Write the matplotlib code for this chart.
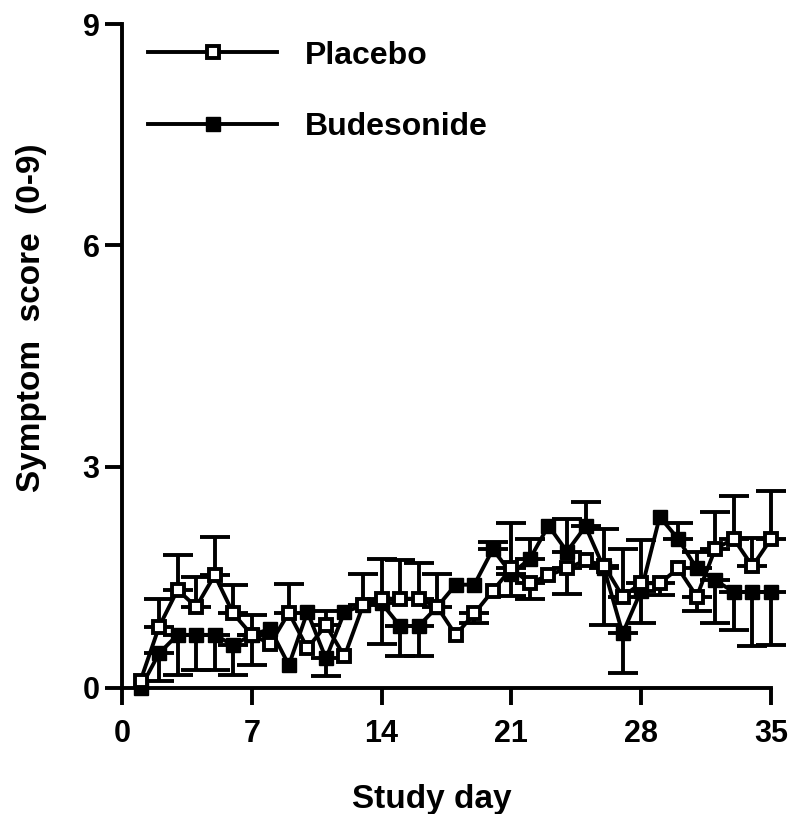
import numpy as np
import matplotlib.pyplot as plt

plt.rcParams['font.family'] = ['Liberation Sans', 'DejaVu Sans']
plt.rcParams['font.weight'] = 'bold'

days = np.arange(1, 36)

placebo = [0.10, 0.83, 1.33, 1.10, 1.53, 1.01, 0.72, 0.60, 1.02, 0.54,
           0.85, 0.43, 1.12, 1.21, 1.21, 1.21, 1.10, 0.72, 1.01, 1.32,
           1.62, 1.42, 1.53, 1.62, 1.73, 1.66, 1.24, 1.42, 1.42, 1.62,
           1.24, 1.89, 2.02, 1.65, 2.02]
placebo_up = [0, 0.37, 0.47, 0.40, 0.52, 0.38, 0.27, 0, 0.39, 0,
              0.20, 0, 0.43, 0.54, 0.52, 0.48, 0.45, 0, 0, 0,
              0.61, 0, 0, 0, 0, 0.50, 0.65, 0.58, 0, 0,
              0, 0.49, 0.58, 0.38, 0.65]
placebo_down = [0, 0, 0, 0, 0, 0, 0, 0, 0, 0,
                0, 0, 0, 0, 0, 0, 0, 0, 0.13, 0,
                0, 0.21, 0, 0.34, 0, 0, 0, 0, 0.16, 0,
                0.20, 0, 0, 0, 0]

budesonide = [0.00, 0.47, 0.72, 0.72, 0.72, 0.58, 0.72, 0.80, 0.31, 1.03,
              0.40, 1.03, 1.12, 1.15, 0.84, 0.84, 1.10, 1.40, 1.40, 1.88,
              1.55, 1.75, 2.20, 1.85, 2.19, 1.62, 0.74, 1.32, 2.32, 2.02,
              1.62, 1.46, 1.30, 1.30, 1.30]
bud_up = [0, 0, 0, 0, 0, 0, 0, 0, 0, 0,
          0, 0, 0, 0, 0, 0, 0, 0, 0, 0.10,
          0, 0.27, 0, 0.44, 0.33, 0, 0, 0, 0, 0.22,
          0.23, 0, 0, 0, 0]
bud_down = [0, 0.37, 0.54, 0.47, 0.47, 0.40, 0.41, 0, 0, 0,
            0.24, 0, 0, 0.55, 0.41, 0.41, 0, 0, 0, 0,
            0.30, 0, 0, 0, 0, 0.77, 0.54, 0.44, 0, 0,
            0, 0.58, 0.52, 0.73, 0.72]

LW = 2.8

fig = plt.figure(figsize=(7.9, 8.14), dpi=100)
ax = fig.add_axes([0.1544, 0.1548, 0.8215, 0.8157])

def bars(mean, up, down):
    mean, up, down = np.array(mean), np.array(up), np.array(down)
    for err, lower in ((up, False), (down, True)):
        m = err > 0
        z = np.zeros(m.sum())
        yerr = [err[m], z] if lower else [z, err[m]]
        eb = ax.errorbar(days[m], mean[m], yerr=yerr, fmt='none', ecolor='k',
                         elinewidth=LW, capsize=10.5, capthick=LW, zorder=2)
        for a in eb.lines[1] + eb.lines[2]:
            a.set_clip_on(False)

bars(budesonide, bud_up, bud_down)
bars(placebo, placebo_up, placebo_down)

ax.plot(days, budesonide, '-', color='k', lw=LW, marker='s', ms=10.5,
        mfc='k', mec='k', mew=1, zorder=3, label='Budesonide', clip_on=False)
ax.plot(days, placebo, '-', color='k', lw=LW, marker='s', ms=8,
        mfc='white', mec='k', mew=2.8, zorder=4, label='Placebo', clip_on=False)

ax.set_xlim(0, 35)
ax.set_ylim(0, 9)
ax.set_xticks([0, 7, 14, 21, 28, 35])
ax.set_yticks([0, 3, 6, 9])
for s in ['top', 'right']:
    ax.spines[s].set_visible(False)
for s in ['left', 'bottom']:
    ax.spines[s].set_linewidth(LW)
ax.tick_params(direction='out', length=12, width=LW, labelsize=22)
ax.tick_params(axis='x', pad=10)
ax.tick_params(axis='y', pad=4)
for lab in ax.get_xticklabels() + ax.get_yticklabels():
    lab.set_fontweight('bold')

ax.set_xlabel('Study day', fontsize=24, fontweight='bold')
ax.set_ylabel('Symptom  score  (0-9)', fontsize=24, fontweight='bold')
ax.xaxis.set_label_coords(0.478, -0.145)
ax.yaxis.set_label_coords(-0.116, 0.557)

h, l = ax.get_legend_handles_labels()
ax.legend(h[::-1], l[::-1], loc='upper left', bbox_to_anchor=(0.04, 0.975),
          frameon=False, borderpad=0, borderaxespad=0, handlelength=4.05,
          handletextpad=0.85, labelspacing=1.3,
          prop={'size': 23, 'weight': 'bold'})

fig.savefig('out.png', dpi=100)
